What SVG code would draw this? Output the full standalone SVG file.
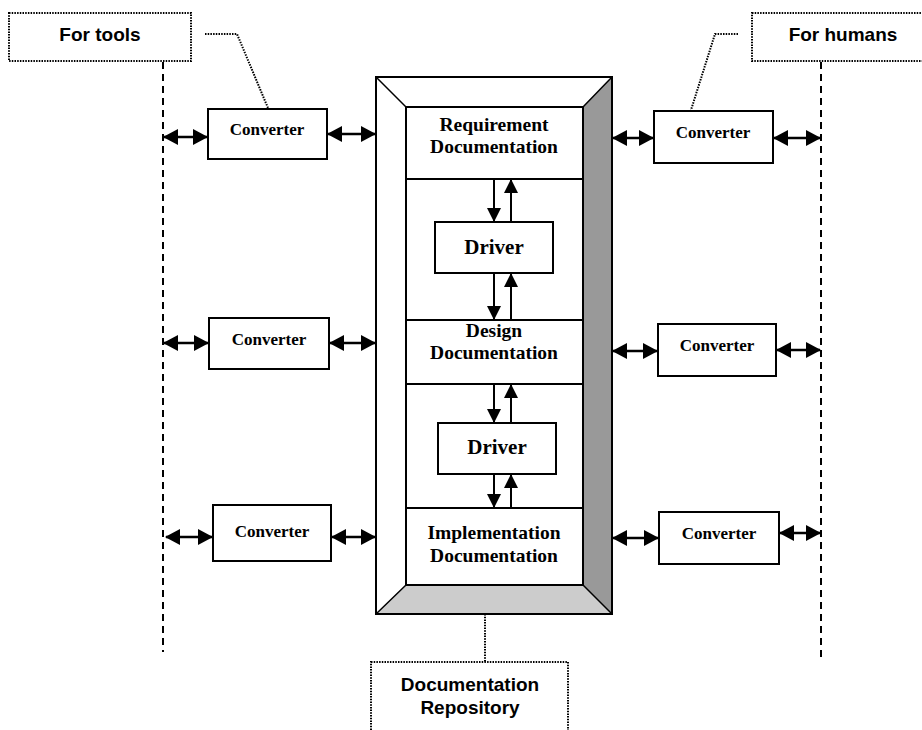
<svg xmlns="http://www.w3.org/2000/svg" width="922" height="730" viewBox="0 0 922 730">
<defs>
<marker id="ah" viewBox="0 0 15 16" refX="14" refY="8" markerWidth="15" markerHeight="16" markerUnits="userSpaceOnUse" orient="auto-start-reverse">
<path d="M0,0 L15,8 L0,16 Z" fill="#000"/>
</marker>
<marker id="vh" viewBox="0 0 14 14" refX="13" refY="7" markerWidth="14" markerHeight="14" markerUnits="userSpaceOnUse" orient="auto-start-reverse">
<path d="M0,0 L14,7 L0,14 Z" fill="#000"/>
</marker>
<style>
.box{fill:#fff;stroke:#000;stroke-width:2}
.lbl{fill:none;stroke:#000;stroke-width:2;stroke-dasharray:1.5 1.2}
.dash{fill:none;stroke:#000;stroke-width:2;stroke-dasharray:7 5}
.ar{stroke:#000;stroke-width:2.5;fill:none}
.vr{stroke:#000;stroke-width:2;fill:none}
.tS{font-family:"Liberation Serif",serif;font-weight:bold;text-anchor:middle;fill:#000}
.tA{font-family:"Liberation Sans",Arial,sans-serif;font-weight:bold;text-anchor:middle;fill:#000}
</style>
</defs>
<g id="for-tools">
<rect class="lbl" x="9" y="13" width="182" height="48"/>
<text class="tA" x="100" y="41" font-size="19">For tools</text>
</g>
<g id="for-humans">
<rect class="lbl" x="752" y="13" width="175" height="48"/>
<text class="tA" x="843" y="41" font-size="19">For humans</text>
</g>
<g id="doc-repo-label">
<rect class="lbl" x="371" y="662" width="197" height="80"/>
<text class="tA" x="470" y="691" font-size="19">Documentation</text>
<text class="tA" x="470" y="714" font-size="19">Repository</text>
</g>
<g id="repository">
<rect x="376" y="77" width="236" height="537" fill="#fff" stroke="none"/>
<polygon points="583,107 612,77 612,614 583,585" fill="#999"/>
<polygon points="406,585 583,585 612,614 376,614" fill="#ccc"/>
<rect x="376" y="77" width="236" height="537" fill="none" stroke="#000" stroke-width="2"/>
<rect x="406" y="107" width="177" height="478" fill="none" stroke="#000" stroke-width="2"/>
<path d="M376,77 L406,107 M612,77 L583,107 M376,614 L406,585 M612,614 L583,585" stroke="#000" stroke-width="1.5"/>
</g>
<g id="req-doc">
<rect class="box" x="406" y="107" width="177" height="72"/>
<text class="tS" x="494" y="131" font-size="19.5">Requirement</text>
<text class="tS" x="494" y="153" font-size="19.5">Documentation</text>
</g>
<g id="driver1">
<rect class="box" x="435" y="222" width="118" height="51"/>
<text class="tS" x="494" y="254" font-size="21">Driver</text>
</g>
<g id="design-doc">
<rect class="box" x="406" y="320" width="177" height="64"/>
<text class="tS" x="494" y="337" font-size="19.5">Design</text>
<text class="tS" x="494" y="359" font-size="19.5">Documentation</text>
</g>
<g id="driver2">
<rect class="box" x="438" y="423" width="118" height="51"/>
<text class="tS" x="497" y="454" font-size="21">Driver</text>
</g>
<g id="impl-doc">
<rect class="box" x="406" y="508" width="177" height="77"/>
<text class="tS" x="494" y="539" font-size="19.5">Implementation</text>
<text class="tS" x="494" y="562" font-size="19.5">Documentation</text>
</g>
<g id="conv-l1">
<rect class="box" x="208" y="109" width="119" height="50"/>
<text class="tS" x="267" y="135" font-size="17">Converter</text>
</g>
<g id="conv-l2">
<rect class="box" x="209" y="318" width="120" height="51"/>
<text class="tS" x="269" y="345" font-size="17">Converter</text>
</g>
<g id="conv-l3">
<rect class="box" x="213" y="505" width="118" height="56"/>
<text class="tS" x="272" y="537" font-size="17">Converter</text>
</g>
<g id="conv-r1">
<rect class="box" x="654" y="111" width="119" height="52"/>
<text class="tS" x="713" y="138" font-size="17">Converter</text>
</g>
<g id="conv-r2">
<rect class="box" x="658" y="324" width="118" height="52"/>
<text class="tS" x="717" y="351" font-size="17">Converter</text>
</g>
<g id="conv-r3">
<rect class="box" x="659" y="512" width="120" height="52"/>
<text class="tS" x="719" y="539" font-size="17">Converter</text>
</g>
<g id="connectors">
<line class="dash" x1="163" y1="62" x2="163" y2="652"/>
<line class="dash" x1="821" y1="62" x2="821" y2="662"/>
<polyline class="lbl" points="205,34 237,34 268,108"/>
<polyline class="lbl" points="738,34 715,34 691,110"/>
<line class="lbl" x1="485" y1="614" x2="485" y2="662"/>
<line class="ar" x1="164" y1="137" x2="207" y2="137" marker-start="url(#ah)" marker-end="url(#ah)"/>
<line class="ar" x1="328" y1="134" x2="375" y2="134" marker-start="url(#ah)" marker-end="url(#ah)"/>
<line class="ar" x1="164" y1="343" x2="208" y2="343" marker-start="url(#ah)" marker-end="url(#ah)"/>
<line class="ar" x1="330" y1="343" x2="375" y2="343" marker-start="url(#ah)" marker-end="url(#ah)"/>
<line class="ar" x1="166" y1="537" x2="212" y2="537" marker-start="url(#ah)" marker-end="url(#ah)"/>
<line class="ar" x1="332" y1="537" x2="375" y2="537" marker-start="url(#ah)" marker-end="url(#ah)"/>
<line class="ar" x1="613" y1="138" x2="653" y2="138" marker-start="url(#ah)" marker-end="url(#ah)"/>
<line class="ar" x1="774" y1="138" x2="820" y2="138" marker-start="url(#ah)" marker-end="url(#ah)"/>
<line class="ar" x1="613" y1="351" x2="657" y2="351" marker-start="url(#ah)" marker-end="url(#ah)"/>
<line class="ar" x1="777" y1="350" x2="820" y2="350" marker-start="url(#ah)" marker-end="url(#ah)"/>
<line class="ar" x1="613" y1="538" x2="658" y2="538" marker-start="url(#ah)" marker-end="url(#ah)"/>
<line class="ar" x1="780" y1="533" x2="820" y2="533" marker-start="url(#ah)" marker-end="url(#ah)"/>
<line class="vr" x1="494" y1="180" x2="494" y2="221" marker-end="url(#vh)"/>
<line class="vr" x1="511" y1="221" x2="511" y2="180" marker-end="url(#vh)"/>
<line class="vr" x1="494" y1="274" x2="494" y2="319" marker-end="url(#vh)"/>
<line class="vr" x1="511" y1="319" x2="511" y2="274" marker-end="url(#vh)"/>
<line class="vr" x1="494" y1="385" x2="494" y2="422" marker-end="url(#vh)"/>
<line class="vr" x1="511" y1="422" x2="511" y2="385" marker-end="url(#vh)"/>
<line class="vr" x1="494" y1="475" x2="494" y2="507" marker-end="url(#vh)"/>
<line class="vr" x1="511" y1="507" x2="511" y2="475" marker-end="url(#vh)"/>
</g>
</svg>
